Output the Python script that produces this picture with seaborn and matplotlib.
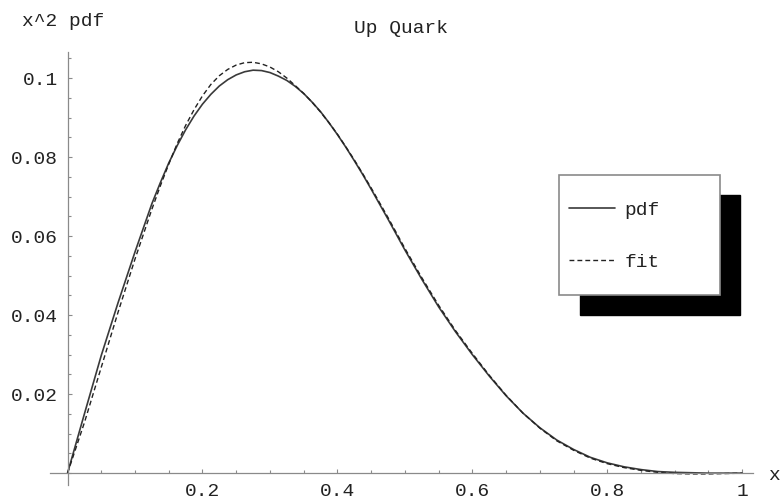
import matplotlib
matplotlib.use("Agg")
import matplotlib.pyplot as plt
import seaborn as sns
import pandas as pd
from matplotlib.patches import Rectangle
from matplotlib.ticker import FixedLocator, MultipleLocator

# valores (x^2 pdf do quark up e o ajuste)
x_vals = [0.0, 0.025, 0.05, 0.075, 0.1, 0.125, 0.1375, 0.15, 0.1625, 0.175,
          0.1875, 0.2, 0.2125, 0.225, 0.2375, 0.25, 0.2625, 0.275, 0.2875, 0.3,
          0.3125, 0.325, 0.3375, 0.35, 0.3625, 0.375, 0.3875, 0.4, 0.4125, 0.425,
          0.4375, 0.45, 0.475, 0.5, 0.525, 0.55, 0.575, 0.6, 0.625, 0.65,
          0.675, 0.7, 0.725, 0.75, 0.775, 0.8, 0.825, 0.85, 0.875, 0.9,
          0.925, 0.95, 0.975, 1.0]
pdf_vals = [0.0, 0.0150, 0.0298, 0.0432, 0.0560, 0.0682, 0.0735, 0.0785, 0.0829, 0.0869,
            0.0904, 0.0934, 0.0959, 0.0980, 0.0996, 0.1008, 0.1016, 0.1020, 0.1019, 0.1014,
            0.1005, 0.0994, 0.0979, 0.0961, 0.0939, 0.0915, 0.0887, 0.0857, 0.0825, 0.0791,
            0.0756, 0.0719, 0.0643, 0.0565, 0.0491, 0.0421, 0.0358, 0.0300, 0.0246, 0.0196,
            0.0152, 0.0115, 0.0084, 0.0060, 0.0040, 0.0026, 0.0016, 0.0009, 0.0004, 0.0002,
            0.0001, 0.0, 0.0, 0.0]
fit_vals = [0.0, 0.0128, 0.0268, 0.0408, 0.0542, 0.0668, 0.0727, 0.0782, 0.0834, 0.0880,
            0.0920, 0.0955, 0.0984, 0.1006, 0.1022, 0.1033, 0.1039, 0.1040, 0.1036, 0.1028,
            0.1016, 0.1000, 0.0981, 0.0961, 0.0939, 0.0914, 0.0887, 0.0858, 0.0826, 0.0793,
            0.0758, 0.0722, 0.0647, 0.0569, 0.0495, 0.0425, 0.0361, 0.0303, 0.0248, 0.0197,
            0.0152, 0.0114, 0.0082, 0.0058, 0.0038, 0.0024, 0.0014, 0.0007, 0.0002, -0.0001,
            -0.0002, -0.0002, -0.0001, 0.0]

x_ticks = [0.2, 0.4, 0.6, 0.8, 1.0]
x_labels = ["0.2", "0.4", "0.6", "0.8", "1"]
y_ticks = [0.02, 0.04, 0.06, 0.08, 0.1]
y_labels = ["0.02", "0.04", "0.06", "0.08", "0.1"]

df = pd.DataFrame({"x": x_vals, "pdf": pdf_vals, "fit": fit_vals})

sns.set_style("white")
plt.rcParams["font.family"] = ["Liberation Mono", "DejaVu Sans Mono"]

fig = plt.figure(figsize=(7.81, 5.0), dpi=100)
W, H = 781, 500
ax = fig.add_axes([50 / W, (H - 485) / H, (753 - 50) / W, (485 - 52) / H])

sns.lineplot(data=df, x="x", y="pdf", ax=ax, color="#3a3a3a", lw=1.2, label="pdf")
sns.lineplot(data=df, x="x", y="fit", ax=ax, color="#222222", lw=1.0,
             linestyle=(0, (3.5, 2.2)), label="fit")

ax.set_xlim(-0.026, 1.016)
ax.set_ylim(-0.003, 0.1066)

# eixos cruzando na origem, estilo Mathematica
for s in ["top", "right"]:
    ax.spines[s].set_visible(False)
ax.spines["left"].set_position(("data", 0))
ax.spines["bottom"].set_position(("data", 0))
for s in ["left", "bottom"]:
    ax.spines[s].set_color("#8a8a8a")
    ax.spines[s].set_linewidth(0.9)

ax.xaxis.set_major_locator(FixedLocator(x_ticks))
ax.set_xticklabels(x_labels)
ax.yaxis.set_major_locator(FixedLocator(y_ticks))
ax.set_yticklabels(y_labels)
ax.xaxis.set_minor_locator(MultipleLocator(0.05))
ax.yaxis.set_minor_locator(MultipleLocator(0.005))
ax.tick_params(which="both", direction="in", color="#8a8a8a", width=0.8,
               bottom=True, left=True)
ax.tick_params(which="major", length=3, pad=7, labelsize=14, labelcolor="#222222")
ax.tick_params(which="minor", length=2.2)

ax.set_xlabel("")
ax.set_ylabel("")
ax.set_title("Up Quark", fontsize=14, color="#222222", pad=14)

fig.text(22 / W, 1 - 22 / H, "x^2 pdf", fontsize=14, color="#222222", ha="left", va="center")
fig.text(768 / W, 1 - 475 / H, "x", fontsize=14, color="#222222", ha="left", va="center")

# caixa da legenda com sombra preta (em coordenadas da figura)
ax.add_patch(Rectangle((580 / W, 1 - 315 / H), 160 / W, 120 / H,
                       transform=fig.transFigure, facecolor="black",
                       edgecolor="black", zorder=5, clip_on=False))
ax.add_patch(Rectangle((559 / W, 1 - 295 / H), 161 / W, 120 / H,
                       transform=fig.transFigure, facecolor="white",
                       edgecolor="#8a8a8a", lw=1.2, zorder=6, clip_on=False))

leg = ax.legend(loc="center left", bbox_to_anchor=(569 / W, 1 - 236 / H),
                bbox_transform=fig.transFigure, borderaxespad=0, borderpad=0,
                frameon=False, fontsize=14, handlelength=2.37,
                handletextpad=0.5, labelspacing=1.75)
leg.set_zorder(8)
for t in leg.get_texts():
    t.set_color("#222222")

fig.savefig("out.png", dpi=100)
